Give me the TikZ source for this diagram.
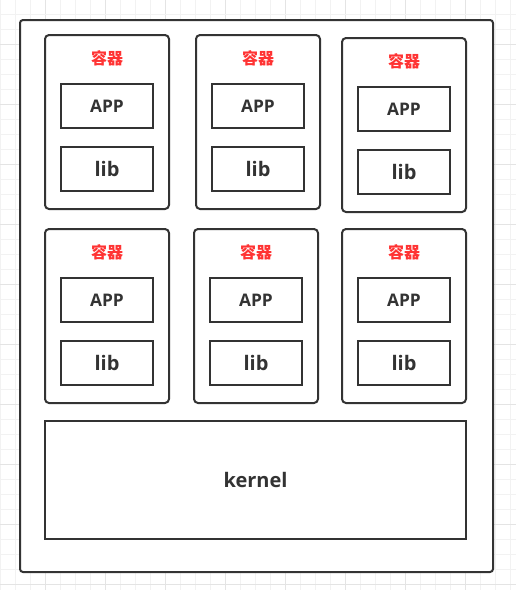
\documentclass[tikz,border=0pt]{standalone}
\usepackage{fontspec}
\setmainfont{Open Sans}
\newfontfamily\cjk{Noto Sans CJK SC}
\usepackage{tikz}

\definecolor{inkgray}{RGB}{51,51,51}
\definecolor{labelred}{RGB}{255,51,51}
\definecolor{gridminor}{RGB}{242,242,242}
\definecolor{gridmajor}{RGB}{228,228,228}

\tikzset{
  outerbox/.style={draw=inkgray, fill=white, line width=1.5pt, rounded corners=2.25pt},
  container/.style={draw=inkgray, fill=white, line width=1.5pt, rounded corners=3pt,
    minimum width=93pt, minimum height=130.5pt, inner sep=0pt},
  layer/.style={draw=inkgray, fill=white, line width=1.5pt, inner sep=0pt,
    minimum width=69pt, minimum height=33pt, text=inkgray, font=\bfseries},
  applabel/.style={layer, font=\bfseries\fontsize{13}{15}\selectfont},
  liblabel/.style={layer, font=\bfseries\fontsize{15}{18}\selectfont},
  boxname/.style={text=labelred, inner sep=0pt, font=\cjk\bfseries\fontsize{12}{14}\selectfont},
}

\begin{document}
\begin{tikzpicture}[x=0.75pt,y=0.75pt,yscale=-1,xscale=1]
\useasboundingbox (0,0) rectangle (516,590);

%Grid
\foreach \k in {0,...,34} {
  \pgfmathsetmacro{\gx}{15*\k+0.7}
  \pgfmathtruncatemacro{\major}{mod(\k,4)==3}
  \ifnum\major=1 \def\gcol{gridmajor}\else\def\gcol{gridminor}\fi
  \draw [color=\gcol, line width=0.75pt] (\gx,0) -- (\gx,590) ;
}
\foreach \k in {1,...,39} {
  \pgfmathsetmacro{\gy}{15*\k-0.7}
  \pgfmathtruncatemacro{\major}{mod(\k,4)==3}
  \ifnum\major=1 \def\gcol{gridmajor}\else\def\gcol{gridminor}\fi
  \draw [color=\gcol, line width=0.75pt] (0,\gy) -- (516,\gy) ;
}

%Shape: Rectangle [host]
\node [outerbox, minimum width=354.75pt, minimum height=414pt, inner sep=0pt] (host) at (256.5,296) {};

%Shape: Rectangle [container 1]
\node [container] (c1) at (107,122) {};
\node [boxname] (c1name) at (107,58) {容器};
\node [applabel] (c1app) at (107,106) {APP};
\node [liblabel] (c1lib) at (107,169) {lib};

%Shape: Rectangle [container 2]
\node [container] (c2) at (258,122) {};
\node [boxname] (c2name) at (258,58) {容器};
\node [applabel] (c2app) at (258,106) {APP};
\node [liblabel] (c2lib) at (258,169) {lib};

%Shape: Rectangle [container 3]
\node [container] (c3) at (404,125) {};
\node [boxname] (c3name) at (404,61) {容器};
\node [applabel] (c3app) at (404,109) {APP};
\node [liblabel] (c3lib) at (404,172) {lib};

%Shape: Rectangle [container 4]
\node [container] (c4) at (107,316) {};
\node [boxname] (c4name) at (107,252) {容器};
\node [applabel] (c4app) at (107,300) {APP};
\node [liblabel] (c4lib) at (107,363) {lib};

%Shape: Rectangle [container 5]
\node [container] (c5) at (256,316) {};
\node [boxname] (c5name) at (256,252) {容器};
\node [applabel] (c5app) at (256,300) {APP};
\node [liblabel] (c5lib) at (256,363) {lib};

%Shape: Rectangle [container 6]
\node [container] (c6) at (404,316) {};
\node [boxname] (c6name) at (404,252) {容器};
\node [applabel] (c6app) at (404,300) {APP};
\node [liblabel] (c6lib) at (404,363) {lib};

%Shape: Rectangle [kernel]
\node [liblabel, minimum width=315.75pt, minimum height=88.5pt] (kernel) at (255.5,480) {kernel};

\end{tikzpicture}
\end{document}
